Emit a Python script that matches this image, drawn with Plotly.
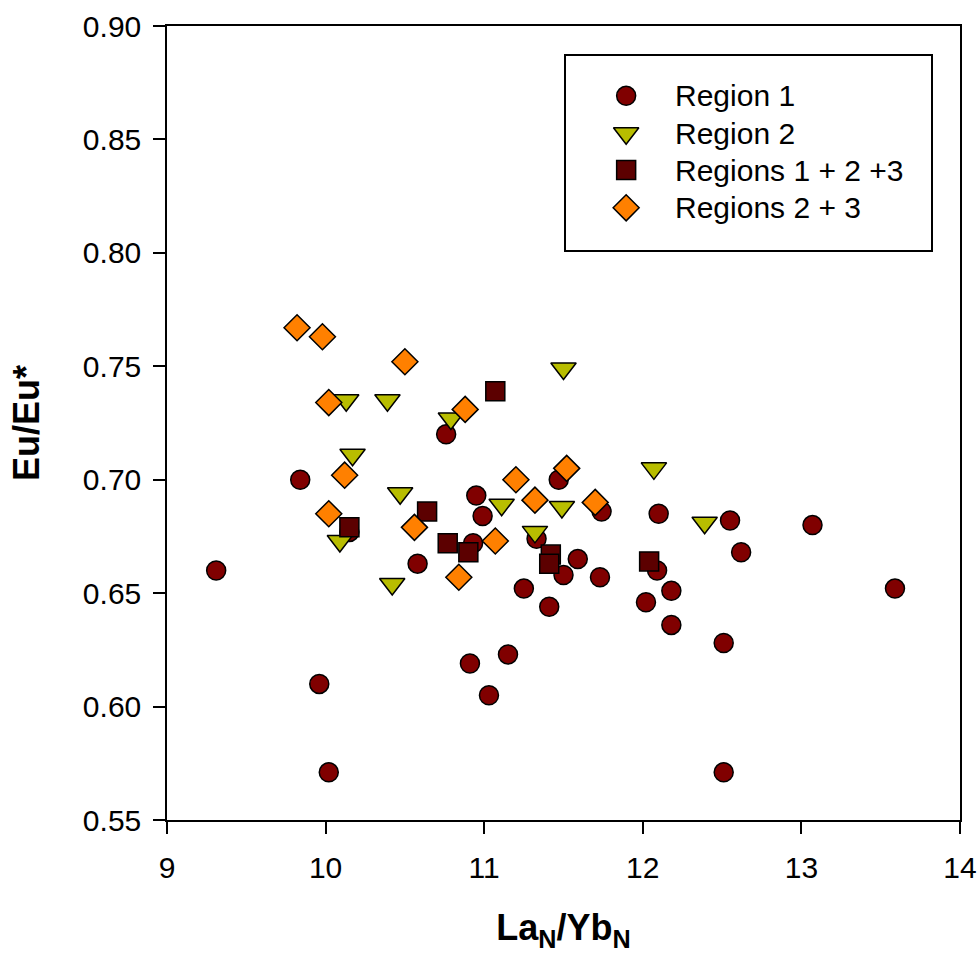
import plotly.graph_objects as go

# La_N/Yb_N and Eu/Eu* for each sample group
region1_x = [9.31, 9.84, 9.96, 10.02, 10.15, 10.58, 10.76, 10.91, 10.95, 10.99,
             10.93, 11.03, 11.15, 11.25, 11.33, 11.41, 11.47, 11.50, 11.59, 11.73,
             11.74, 12.02, 12.09, 12.10, 12.18, 12.18, 12.51, 12.51, 12.55, 12.62,
             13.07, 13.59]
region1_y = [0.660, 0.700, 0.610, 0.571, 0.677, 0.663, 0.720, 0.619, 0.693, 0.684,
             0.672, 0.605, 0.623, 0.652, 0.674, 0.644, 0.700, 0.658, 0.665, 0.657,
             0.686, 0.646, 0.660, 0.685, 0.651, 0.636, 0.628, 0.571, 0.682, 0.668,
             0.680, 0.652]

region2_x = [10.09, 10.13, 10.17, 10.39, 10.42, 10.47, 10.79, 11.11, 11.32, 11.49,
             11.50, 12.07, 12.39]
region2_y = [0.673, 0.735, 0.711, 0.735, 0.654, 0.694, 0.727, 0.689, 0.677, 0.688,
             0.749, 0.705, 0.681]

regions123_x = [10.15, 10.64, 10.77, 10.90, 11.07, 11.42, 11.41, 12.04]
regions123_y = [0.679, 0.686, 0.672, 0.668, 0.739, 0.667, 0.663, 0.664]

regions23_x = [9.82, 9.98, 10.50, 10.02, 10.12, 10.02, 10.56, 10.88, 10.84, 11.20,
               11.32, 11.07, 11.52, 11.70]
regions23_y = [0.767, 0.763, 0.752, 0.734, 0.702, 0.685, 0.679, 0.731, 0.657, 0.700,
               0.691, 0.673, 0.705, 0.690]

x_ticks = [9, 10, 11, 12, 13, 14]
y_ticks = [0.55, 0.60, 0.65, 0.70, 0.75, 0.80, 0.85, 0.90]

FONT = "Liberation Sans, Arial, sans-serif"

series = [
    ("Region 1", region1_x, region1_y, "circle", "#800000", 19),
    ("Region 2", region2_x, region2_y, "triangle-down", "#B8BD00", 22),
    ("Regions 1 + 2 +3", regions123_x, regions123_y, "square", "#5C0000", 19),
    ("Regions 2 + 3", regions23_x, regions23_y, "diamond", "#FF8000", 20),
]

fig = go.Figure()
for name, xs, ys, sym, col, sz in series:
    fig.add_trace(go.Scatter(
        x=xs, y=ys, mode="markers", name=name, showlegend=False,
        marker=dict(symbol=sym, color=col, size=sz, opacity=1,
                    line=dict(color="black", width=1.5)),
    ))

# Legend key: a boxed panel in the upper right, laid out on a 0..1 overlay
key_sym_x = 0.579
key_text_x = 0.638
key_rows = [0.912, 0.865, 0.8185, 0.771]
fig.add_trace(go.Scatter(
    x=[key_sym_x] * len(series), y=key_rows, mode="markers",
    xaxis="x2", yaxis="y2", showlegend=False, hoverinfo="skip",
    marker=dict(symbol=[s[3] for s in series], color=[s[4] for s in series],
                size=[s[5] for s in series], opacity=1,
                line=dict(color="black", width=1.5)),
))
annotations = [
    dict(x=key_text_x, y=yr, xref="x2", yref="y2", text=s[0], showarrow=False,
         xanchor="left", yanchor="middle",
         font=dict(family=FONT, size=30, color="black"))
    for s, yr in zip(series, key_rows)
]

axis_common = dict(
    showgrid=False, zeroline=False, showline=True, linecolor="black",
    linewidth=1.5, mirror=True, ticks="outside", ticklen=12, tickwidth=1.5,
    tickcolor="black", tickfont=dict(family=FONT, size=30, color="black"),
    automargin=False,
)

fig.update_layout(
    width=979, height=958,
    margin=dict(l=167, r=19, t=26, b=138),
    paper_bgcolor="white", plot_bgcolor="white",
    font=dict(family=FONT, color="black"),
    xaxis=dict(range=[9, 14], tickvals=x_ticks,
               ticktext=[str(v) for v in x_ticks], ticklabelstandoff=8,
               title=dict(text="<b>La<sub>N</sub>/Yb<sub>N</sub></b>",
                          font=dict(family=FONT, size=36), standoff=32),
               **axis_common),
    yaxis=dict(range=[0.55, 0.90], tickvals=y_ticks,
               ticktext=[f"{v:.2f}" for v in y_ticks], ticklabelstandoff=6,
               title=dict(text="<b>Eu/Eu*</b>",
                          font=dict(family=FONT, size=36), standoff=32),
               **axis_common),
    xaxis2=dict(range=[0, 1], overlaying="x", visible=False, fixedrange=True),
    yaxis2=dict(range=[0, 1], overlaying="y", visible=False, fixedrange=True),
    showlegend=False,
    annotations=annotations,
    shapes=[dict(type="rect", xref="paper", yref="paper",
                 x0=(565 - 167) / 793, x1=(932 - 167) / 793,
                 y0=(820 - 251) / 794, y1=(820 - 55) / 794,
                 line=dict(color="black", width=2), fillcolor="rgba(0,0,0,0)")],
)

fig.write_html("out.html")
